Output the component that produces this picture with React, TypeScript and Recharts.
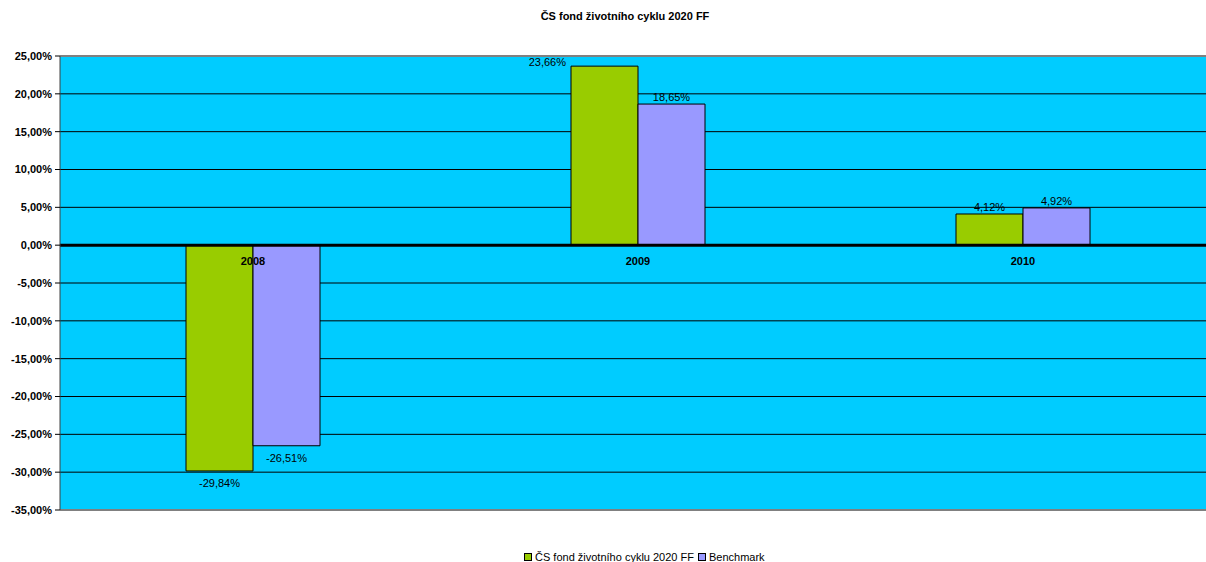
import React from "react";
import {
  BarChart,
  Bar,
  XAxis,
  YAxis,
  CartesianGrid,
  Legend,
  LabelList,
  ReferenceLine,
} from "recharts";

const years = ["2008", "2009", "2010"];
const fundReturns = [-29.84, 23.66, 4.12];
const benchmarkReturns = [-26.51, 18.65, 4.92];
const yTicks = [-35, -30, -25, -20, -15, -10, -5, 0, 5, 10, 15, 20, 25];

const fundName = "ČS fond životního cyklu 2020 FF";
const benchName = "Benchmark";

const chartData = years.map((year, i) => ({
  year,
  fund: fundReturns[i],
  bench: benchmarkReturns[i],
}));

const FONT = "'Liberation Sans', Arial, sans-serif";
const PLOT_TOP = 56;

const pct = (v: number) => v.toFixed(2).replace(".", ",") + "%";

const boxOf = (props: any) => {
  const vb = props.viewBox ?? props;
  const { x, y, width, height } = vb;
  return {
    x: Number(x),
    width: Number(width),
    top: Math.min(y, y + height),
    bottom: Math.max(y, y + height),
  };
};

const valueLabel = (props: any) => {
  const b = boxOf(props);
  const v = Number(props.value);
  let tx = b.x + b.width / 2;
  let ty = v >= 0 ? b.top - 6 : b.bottom + 13;
  let anchor: "middle" | "end" = "middle";
  // label would hit the plot border: put it beside the bar, like Excel does
  if (v >= 0 && ty - 6 < PLOT_TOP) {
    tx = b.x - 5;
    ty = b.top - 3;
    anchor = "end";
  }
  return (
    <text
      x={tx}
      y={ty}
      textAnchor={anchor}
      dominantBaseline="middle"
      fontSize={11}
      fontFamily={FONT}
      fill="#000"
    >
      {pct(v)}
    </text>
  );
};

const yearLabel = (props: any) => {
  const b = boxOf(props);
  const v = Number(props.value);
  const zero = v >= 0 ? b.bottom : b.top;
  return (
    <text
      x={b.x + b.width}
      y={zero + 17}
      textAnchor="middle"
      dominantBaseline="middle"
      fontSize={11}
      fontWeight="bold"
      fontFamily={FONT}
      fill="#000"
    >
      {years[props.index]}
    </text>
  );
};

const legendContent = () => (
  <div
    style={{
      display: "flex",
      alignItems: "center",
      height: 14,
      lineHeight: "14px",
      fontSize: 11,
      fontFamily: FONT,
      color: "#000",
      whiteSpace: "nowrap",
    }}
  >
    {[
      { name: fundName, color: "#99CC00" },
      { name: benchName, color: "#9999FF" },
    ].map((item) => (
      <span key={item.name} style={{ display: "flex", alignItems: "center", marginRight: 4 }}>
        <span
          style={{
            display: "inline-block",
            width: 6,
            height: 6,
            background: item.color,
            border: "1px solid #000",
            marginRight: 3,
          }}
        />
        {item.name}
      </span>
    ))}
  </div>
);

export default function App() {
  return (
    <div
      style={{
        position: "absolute",
        left: 0,
        top: 0,
        width: 1206,
        height: 562,
        overflow: "hidden",
        background: "#fff",
        fontFamily: FONT,
      }}
    >
      <div
        style={{
          position: "absolute",
          left: 0,
          top: 9,
          width: 1250,
          textAlign: "center",
          fontSize: 11,
          fontWeight: "bold",
          lineHeight: "14px",
          color: "#000",
          zIndex: 2,
        }}
      >
        {fundName}
      </div>
      <BarChart
        width={1215}
        height={562}
        data={chartData}
        margin={{ top: PLOT_TOP, right: 0, bottom: 38, left: 0 }}
        barSize={67}
        barGap={0}
      >
        <CartesianGrid vertical={false} stroke="#000" fill="#00CCFF" />
        <XAxis dataKey="year" hide />
        <YAxis
          width={60}
          domain={[-35, 25]}
          ticks={yTicks}
          interval={0}
          tickFormatter={pct}
          tickSize={5}
          tickMargin={3}
          tick={{ fontSize: 11, fontWeight: "bold", fill: "#000", fontFamily: FONT }}
          tickLine={{ stroke: "#000" }}
          axisLine={{ stroke: "#404040" }}
        />
        <Legend
          verticalAlign="bottom"
          content={legendContent}
          wrapperStyle={{ left: 524, bottom: -2, width: "auto" }}
        />
        <Bar dataKey="fund" name={fundName} fill="#99CC00" stroke="#000" strokeWidth={1} isAnimationActive={false}>
          <LabelList dataKey="fund" content={valueLabel} />
          <LabelList dataKey="fund" content={yearLabel} />
        </Bar>
        <Bar dataKey="bench" name={benchName} fill="#9999FF" stroke="#000" strokeWidth={1} isAnimationActive={false}>
          <LabelList dataKey="bench" content={valueLabel} />
        </Bar>
        <ReferenceLine y={25} stroke="#808080" strokeWidth={2} />
        <ReferenceLine y={-35} stroke="#808080" strokeWidth={2} />
        <ReferenceLine y={0} stroke="#000" strokeWidth={3} />
      </BarChart>
    </div>
  );
}
